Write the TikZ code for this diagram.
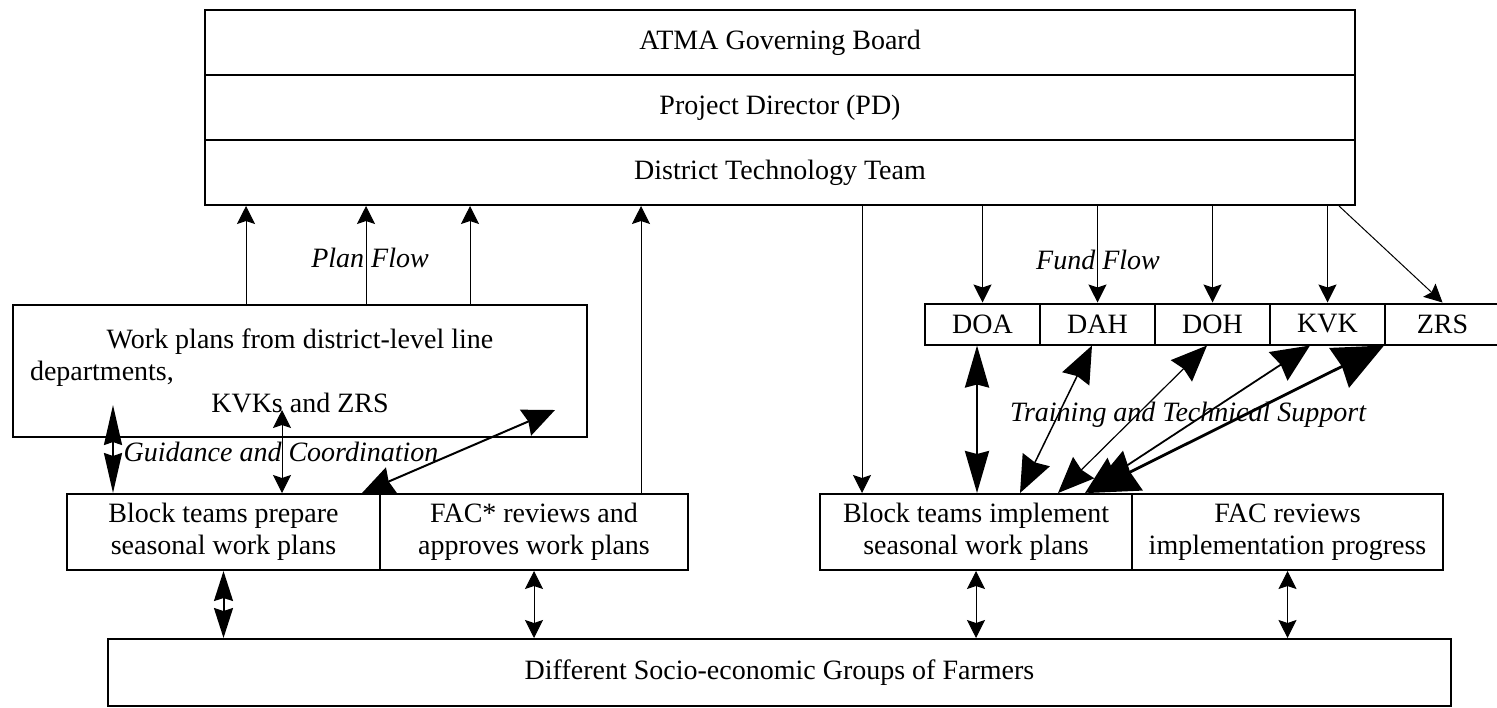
\documentclass[tikz,border=0pt]{standalone}
\usepackage{fontspec}
\setmainfont{Liberation Serif}
\usetikzlibrary{arrows.meta}

\tikzset{
  box/.style={draw, line width=1pt, inner sep=0pt, align=center, font=\fontsize{14}{16}\selectfont},
  flowtext/.style={font=\itshape\fontsize{14}{16}\selectfont},
  support/.style n args={3}{draw, line width=#1, {Stealth[length=#2,width=#3,inset=1.5pt]}-{Stealth[length=#2,width=#3,inset=1.5pt]}}
  }
\tikzstyle{flow} = [draw, line width=0.5pt, -{Stealth[length=9pt,width=9pt,inset=1.5pt]}]
\tikzstyle{link} = [draw, line width=0.5pt, {Stealth[length=9pt,width=9pt,inset=1.5pt]}-{Stealth[length=9pt,width=9pt,inset=1.5pt]}]
\tikzstyle{strong link} = [draw, line width=1pt, {Stealth[length=15pt,width=9.5pt,inset=1.5pt]}-{Stealth[length=15pt,width=9.5pt,inset=1.5pt]}]
\tikzstyle{wide link} = [draw, line width=1pt, {Stealth[length=16pt,width=14pt,inset=1.5pt]}-{Stealth[length=16pt,width=14pt,inset=1.5pt]}]

\begin{document}
\begin{tikzpicture}[x=0.5pt, y=-0.5pt]
    \useasboundingbox (0,0) rectangle (1497,707);

    % The district level
    \foreach \pos/\name/\words in {{(780,42.5)/atma/ATMA Governing Board}, {(780,107.5)/pd/Project Director (PD)}, {(780,172.5)/dtt/District Technology Team}}
      \node[box, minimum width=575pt, minimum height=32.5pt] (\name) at \pos {\words};

    % The line departments
    \foreach \name/\words [count=\i from 0] in {doa/DOA, dah/DAH, doh/DOH, kvk/KVK, zrs/ZRS}
      \node[box, minimum width=57.5pt, minimum height=20.5pt] (\name) at (982.5+115*\i,324) {\words};

    \node[box, minimum width=287pt, minimum height=66pt] (plans) at (300,371)
      {\parbox{270pt}{\centering Work plans from district-level line\par
        \raggedright departments,\par
        \centering KVKs and ZRS\par}};

    % The block level
    \node[box, minimum width=156.5pt, minimum height=38pt] (prepare) at (223.5,532) {Block teams prepare\\seasonal work plans};
    \node[box, minimum width=154pt, minimum height=38pt] (approve) at (534,532) {FAC* reviews and\\approves work plans};
    \node[box, minimum width=156pt, minimum height=38pt] (implement) at (976,532) {Block teams implement\\seasonal work plans};
    \node[box, minimum width=155.5pt, minimum height=38pt] (review) at (1287.5,532) {FAC reviews\\implementation progress};
    \node[box, minimum width=671.5pt, minimum height=33.5pt] (farmers) at (779.5,672.5) {Different Socio-economic Groups of Farmers};

    % The flow labels
    \node[flowtext] (planflow) at (370,258) {Plan Flow};
    \node[flowtext] (fundflow) at (1098,260) {Fund Flow};
    \node[flowtext] (guidance) at (281,452) {Guidance and Coordination};
    \node[flowtext] (training) at (1188,415) {Training and Technical Support};

    \coordinate (plans left) at (113,405);
    \coordinate (plans mid) at (282,410);
    \coordinate (plans right) at (555,410);

    % Plan flow
    \foreach \x in {246,366,470}
      \path[flow] (plans.north -| \x,0) -- (dtt.south -| \x,0);
    \path[flow] (approve.north -| 641,0) -- (dtt.south -| 641,0);

    % Fund flow
    \path[flow] (dtt.south -| 862,0) -- (implement.north -| 862,0);
    \foreach \name in {doa,dah,doh,kvk}
      \path[flow] (dtt.south -| \name.north) -- (\name.north);
    \path[flow] (dtt.south -| 1339,0) -- (zrs.north);

    % Guidance and coordination
    \path[support={1pt}{20pt}{9pt}] (plans left) -- (prepare.north -| plans left);
    \path[link] (plans mid) -- (prepare.north -| plans mid);
    \path[wide link] (prepare.north -| 362,0) -- (plans right);

    % Training and technical support
    \path[support={1.3pt}{21pt}{12pt}] (doa.south -| 977,0) -- (implement.north -| 977,0);
    \path[support={0.75pt}{18.5pt}{15pt}] (dah.south -| 1092,0) -- (implement.north -| 1020,0);
    \path[support={0.6pt}{18pt}{15pt}] (doh.south -| 1207,0) -- (implement.north -| 1058,0);
    \path[support={0.9pt}{19pt}{17pt}] (kvk.south -| 1310,0) -- (implement.north -| 1085,0);
    \path[support={1.4pt}{25pt}{22pt}] (zrs.south west) -- (implement.north -| 1088,0);

    % The farmers
    \path[strong link] (prepare.south) -- (farmers.north -| prepare.south);
    \foreach \name in {approve,implement,review}
      \path[link] (\name.south) -- (farmers.north -| \name.south);
\end{tikzpicture}
\end{document}
